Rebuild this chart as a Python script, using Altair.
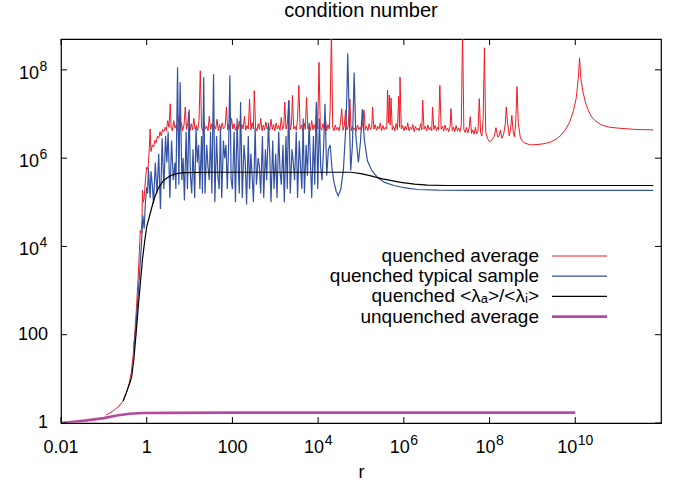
import altair as alt
import pandas as pd

# Values, as (log10 r, log10 condition number)
red_pts = [
    (-0.95, 0.18), (-0.80, 0.26), (-0.65, 0.38), (-0.55, 0.50), (-0.47, 0.70), (-0.41, 0.90),
    (-0.36, 1.15), (-0.32, 1.50), (-0.28, 2.00), (-0.24, 2.60), (-0.20, 3.30), (-0.17, 3.90),
    (-0.15, 4.36), (-0.13, 4.30), (-0.11, 4.60), (-0.10, 5.27), (-0.08, 5.00), (-0.06, 5.10),
    (-0.03, 5.50), (0.00, 5.80), (0.03, 5.75), (0.06, 6.20), (0.08, 6.66), (0.10, 6.15),
    (0.13, 6.30), (0.16, 6.25), (0.19, 6.40), (0.22, 6.35), (0.25, 6.50), (0.28, 6.45),
    (0.31, 6.60), (0.34, 6.50), (0.37, 6.65), (0.40, 6.60), (0.43, 6.70), (0.46, 6.62),
    (0.49, 6.85), (0.52, 6.70), (0.55, 7.23), (0.57, 6.70),
    (0.60, 6.62), (0.63, 6.85), (0.66, 6.68), (0.69, 6.75), (0.72, 6.62), (0.75, 6.95),
    (0.78, 6.66), (0.81, 6.80), (0.84, 6.62), (0.87, 6.75), (0.90, 7.16), (0.93, 6.65),
    (0.96, 6.80), (0.98, 7.04), (1.01, 6.62), (1.04, 6.78), (1.07, 6.64), (1.10, 6.90),
    (1.13, 6.66), (1.16, 6.74), (1.19, 6.63), (1.22, 6.85), (1.25, 7.98), (1.28, 6.70),
    (1.31, 6.62), (1.34, 6.80), (1.37, 6.66), (1.40, 6.72), (1.43, 6.62), (1.46, 6.95),
    (1.49, 6.65), (1.52, 6.78), (1.55, 6.63), (1.58, 6.74), (1.61, 6.66), (1.64, 6.88),
    (1.67, 6.62), (1.70, 6.76), (1.73, 6.64), (1.76, 6.80), (1.79, 6.66), (1.83, 6.72),
    (1.86, 7.16), (1.89, 6.64), (1.92, 6.76), (1.95, 6.62), (1.98, 6.90), (2.01, 6.66),
    (2.04, 6.78), (2.07, 6.63), (2.10, 6.72), (2.13, 6.65), (2.16, 6.84), (2.19, 6.62),
    (2.22, 6.76), (2.25, 6.66), (2.28, 6.95), (2.31, 6.63), (2.34, 6.74), (2.37, 6.66),
    (2.40, 7.34), (2.43, 6.64), (2.46, 6.80), (2.49, 6.66), (2.51, 7.53), (2.54, 6.70),
    (2.57, 6.62), (2.60, 6.78), (2.63, 6.65), (2.66, 6.90), (2.69, 6.62), (2.72, 6.75),
    (2.75, 6.64), (2.78, 6.82), (2.81, 6.66), (2.84, 6.72), (2.87, 6.63), (2.90, 6.88),
    (2.93, 6.65), (2.96, 6.76), (2.99, 6.62), (3.02, 6.80), (3.05, 6.66), (3.08, 6.74),
    (3.11, 6.63), (3.14, 6.92), (3.17, 6.65), (3.20, 6.74), (3.22, 7.27), (3.25, 6.66),
    (3.28, 6.78), (3.32, 7.31), (3.35, 6.64), (3.38, 6.80), (3.40, 7.42), (3.43, 6.66),
    (3.46, 6.72), (3.49, 6.63), (3.52, 6.90), (3.55, 7.65), (3.58, 6.66), (3.61, 6.75),
    (3.64, 6.62), (3.67, 6.80), (3.70, 6.65), (3.73, 7.38), (3.76, 6.66), (3.79, 6.74),
    (3.82, 6.63), (3.85, 6.85), (3.88, 6.64), (3.91, 6.76), (3.94, 6.62), (3.96, 7.27),
    (3.99, 6.66), (4.02, 8.17), (4.05, 6.70), (4.08, 6.63), (4.11, 6.78), (4.14, 6.65),
    (4.17, 6.90), (4.20, 6.62), (4.23, 6.76), (4.26, 6.66), (4.28, 7.10), (4.31, 8.90),
    (4.34, 6.70), (4.37, 6.62), (4.40, 6.75), (4.43, 6.64), (4.46, 6.70), (4.49, 6.62),
    (4.52, 6.80), (4.55, 7.12), (4.58, 6.63), (4.61, 6.74), (4.64, 7.09), (4.67, 6.64),
    (4.70, 6.72), (4.74, 7.34), (4.77, 6.62), (4.80, 6.72), (4.83, 6.64), (4.86, 6.68),
    (4.89, 6.62), (4.92, 6.75), (4.95, 6.65), (4.98, 6.70), (5.01, 6.63), (5.04, 6.80),
    (5.07, 7.09), (5.10, 6.64), (5.13, 6.72), (5.16, 6.62), (5.19, 6.78), (5.22, 6.65),
    (5.25, 6.70), (5.27, 7.16), (5.30, 6.66), (5.33, 6.76), (5.36, 6.63), (5.39, 6.72),
    (5.42, 6.66), (5.45, 6.80), (5.48, 6.62), (5.51, 6.74), (5.54, 6.64), (5.57, 6.70),
    (5.60, 6.66), (5.62, 7.54), (5.64, 6.80), (5.66, 7.43), (5.68, 6.75), (5.70, 7.36),
    (5.73, 6.64), (5.76, 6.72), (5.79, 6.62), (5.82, 6.78), (5.85, 6.64), (5.88, 7.40),
    (5.90, 6.70), (5.91, 7.84), (5.94, 6.66), (5.97, 6.74), (6.00, 6.62), (6.03, 6.72),
    (6.06, 6.64), (6.09, 6.80), (6.12, 6.62), (6.15, 6.70), (6.18, 6.65), (6.21, 6.76),
    (6.24, 6.60), (6.27, 6.72), (6.30, 6.64), (6.33, 6.68), (6.36, 6.62), (6.39, 6.78),
    (6.42, 6.64), (6.44, 7.31), (6.47, 6.66), (6.50, 6.72), (6.53, 6.62), (6.56, 6.75),
    (6.59, 6.64), (6.62, 6.70), (6.65, 6.62), (6.67, 7.16), (6.70, 6.65), (6.73, 6.74),
    (6.76, 6.62), (6.79, 6.70), (6.81, 6.64), (6.84, 7.65), (6.87, 6.66), (6.90, 6.72),
    (6.93, 6.61), (6.96, 6.75), (6.99, 6.63), (7.02, 6.68), (7.05, 6.60), (7.08, 6.72),
    (7.10, 7.12), (7.13, 6.62), (7.16, 6.70), (7.19, 6.60), (7.22, 6.74), (7.25, 6.62),
    (7.28, 6.68), (7.31, 6.60), (7.34, 6.75), (7.37, 8.90), (7.40, 6.65), (7.43, 6.58),
    (7.46, 6.70), (7.49, 6.57), (7.52, 6.66), (7.55, 6.94), (7.58, 6.56), (7.61, 6.64),
    (7.64, 6.54), (7.67, 6.70), (7.70, 6.55), (7.73, 6.62), (7.76, 7.35), (7.79, 6.58),
    (7.82, 6.50), (7.85, 6.90), (7.88, 8.50), (7.91, 6.60),
    (7.95, 6.45), (8.00, 6.37), (8.05, 6.40), (8.11, 6.50), (8.15, 6.69), (8.19, 6.48),
    (8.22, 6.50), (8.25, 6.63), (8.29, 6.45), (8.33, 6.55), (8.37, 6.80), (8.39, 7.16),
    (8.42, 6.80), (8.46, 6.50), (8.49, 6.65), (8.52, 6.97), (8.55, 6.60), (8.58, 6.48),
    (8.61, 6.80), (8.64, 7.62), (8.67, 6.80), (8.72, 6.45), (8.80, 6.35), (8.95, 6.30),
    (9.13, 6.31), (9.30, 6.33), (9.44, 6.37), (9.57, 6.44), (9.67, 6.52), (9.78, 6.66),
    (9.87, 6.82), (9.95, 7.05), (10.02, 7.35), (10.07, 7.80), (10.10, 8.27), (10.13, 7.80),
    (10.18, 7.50), (10.24, 7.25), (10.30, 7.09), (10.37, 6.95), (10.45, 6.86), (10.61, 6.75),
    (10.80, 6.70), (11.00, 6.68), (11.40, 6.65), (11.82, 6.64),
]

blue_pts = [
    (-0.30, 1.70), (-0.25, 2.20), (-0.20, 2.90), (-0.16, 3.50), (-0.12, 4.10), (-0.09, 4.70),
    (-0.06, 4.40), (-0.03, 5.00), (0.00, 5.34), (0.02, 5.20), (0.04, 5.77), (0.06, 5.40),
    (0.08, 5.10), (0.10, 5.70), (0.13, 5.40),
    (0.16, 4.97), (0.20, 5.90), (0.24, 5.20), (0.28, 6.10), (0.32, 4.85), (0.36, 6.45),
    (0.40, 5.30), (0.44, 6.50), (0.47, 5.90), (0.50, 6.60), (0.54, 5.10), (0.58, 6.40),
    (0.62, 5.50), (0.66, 5.90), (0.68, 5.30), (0.72, 8.06), (0.75, 5.40), (0.78, 7.72),
    (0.82, 5.50), (0.85, 6.00), (0.88, 5.04), (0.92, 6.60), (0.95, 5.30), (0.99, 7.10),
    (1.02, 5.60), (1.05, 5.20), (1.08, 6.20), (1.12, 5.10), (1.15, 6.70), (1.18, 5.90),
    (1.21, 6.30), (1.24, 5.30), (1.28, 6.50), (1.30, 5.20), (1.33, 7.83), (1.36, 5.20),
    (1.40, 6.30), (1.43, 5.80), (1.46, 5.50), (1.49, 6.60), (1.52, 5.20), (1.56, 7.90),
    (1.59, 5.00), (1.63, 6.50), (1.66, 5.60), (1.69, 5.30), (1.72, 6.70), (1.75, 5.10),
    (1.79, 6.40), (1.82, 6.00), (1.85, 6.30), (1.88, 5.30), (1.91, 6.20), (1.94, 7.88),
    (1.97, 5.50), (2.00, 5.30), (2.04, 6.60), (2.07, 5.00), (2.11, 6.90), (2.14, 5.70),
    (2.16, 5.20), (2.19, 7.27), (2.23, 5.10), (2.27, 6.30), (2.30, 5.90), (2.33, 4.95),
    (2.37, 6.50), (2.40, 5.30), (2.43, 6.10), (2.46, 5.60), (2.49, 5.00), (2.53, 6.70),
    (2.56, 5.40), (2.60, 6.00), (2.63, 5.80), (2.66, 5.20), (2.70, 6.50), (2.73, 5.10),
    (2.77, 6.20), (2.80, 5.50), (2.84, 6.80), (2.87, 6.10), (2.90, 5.00), (2.94, 6.40),
    (2.97, 5.30), (3.01, 6.10), (3.04, 5.10), (3.08, 6.60), (3.11, 5.70), (3.14, 5.40),
    (3.18, 6.30), (3.21, 5.00), (3.25, 6.50), (3.28, 5.30), (3.31, 7.30), (3.35, 5.20),
    (3.39, 6.20), (3.42, 5.90), (3.45, 5.50), (3.49, 6.60), (3.52, 5.10), (3.56, 6.40),
    (3.59, 5.80), (3.62, 5.30), (3.65, 6.90), (3.68, 5.20), (3.72, 6.30), (3.75, 5.60),
    (3.79, 6.80), (3.82, 5.90), (3.85, 5.10), (3.89, 6.50), (3.92, 5.40), (3.96, 7.28),
    (3.99, 5.30), (4.03, 6.90), (4.06, 5.80), (4.09, 5.50), (4.13, 6.30), (4.16, 7.23),
    (4.20, 5.60), (4.24, 6.20), (4.28, 6.30), (4.32, 5.80), (4.37, 5.45), (4.42, 5.25),
    (4.47, 5.15), (4.53, 5.30), (4.59, 5.75), (4.64, 6.60), (4.67, 7.40), (4.69, 8.37),
    (4.72, 7.20), (4.76, 5.72), (4.80, 6.30), (4.84, 7.94), (4.88, 6.50), (4.94, 5.90),
    (4.99, 6.40), (5.03, 7.11), (5.08, 6.40), (5.15, 5.94), (5.25, 5.72), (5.38, 5.57),
    (5.55, 5.45), (5.77, 5.38), (6.00, 5.33), (6.32, 5.29), (6.80, 5.275), (7.50, 5.27),
    (9.00, 5.27), (11.82, 5.27),
]

black_pts = [
    (-0.55, 0.50), (-0.45, 0.75), (-0.38, 0.95), (-0.35, 1.05), (-0.30, 1.45), (-0.25, 2.00),
    (-0.20, 2.60), (-0.15, 3.15), (-0.10, 3.70), (-0.05, 4.10), (0.00, 4.45), (0.08, 4.74),
    (0.15, 5.00), (0.20, 5.15), (0.28, 5.34), (0.40, 5.50), (0.55, 5.60), (0.70, 5.65),
    (0.85, 5.67), (1.50, 5.68), (3.00, 5.68), (4.50, 5.68), (4.76, 5.68), (5.00, 5.65),
    (5.23, 5.60), (5.50, 5.53), (5.93, 5.45), (6.25, 5.41), (6.55, 5.39), (7.00, 5.38),
    (11.82, 5.38),
]

magenta_pts = [
    (-2.00, 0.000), (-1.70, 0.030), (-1.40, 0.060), (-1.00, 0.110), (-0.70, 0.170),
    (-0.40, 0.210), (-0.10, 0.225), (0.50, 0.230), (2.00, 0.235), (10.00, 0.235),
]

chart_title = "condition number"
series_names = ["quenched average", "quenched typical sample",
                "quenched <λₐ>/<λᵢ>", "unquenched average"]
series_colors = ["#ec1c24", "#3452a4", "#000000", "#b64a9c"]
series_widths = [1.0, 1.2, 1.2, 2.6]
series_pts = [red_pts, blue_pts, black_pts, magenta_pts]

x_ticks = [0.01, 1, 100, 1e4, 1e6, 1e8, 1e10]
y_ticks = [1, 100, 1e4, 1e6, 1e8]
x_plain = [(0.01, "0.01"), (1, "1"), (100, "100")]
x_pow1 = [(1e4, "4"), (1e6, "6"), (1e8, "8")]
x_pow2 = [(1e10, "10")]
y_plain = [(1, "1"), (100, "100")]
y_pow = [(1e4, "4"), (1e6, "6"), (1e8, "8")]

W, H = 600, 384
FONT = "Liberation Sans"
FS = 18
FS_EXP = 14

xs = alt.Scale(type="log", domain=[0.01, 1e12], nice=False)
ys = alt.Scale(type="log", domain=[1, 5e8], nice=False)

xax = alt.Axis(labels=False, title="r", ticks=False, tickSize=0, domain=False, grid=False,
               titlePadding=40)


def X(field):
    return alt.X(field, scale=xs, axis=xax)


def Y(field):
    return alt.Y(field, scale=ys, axis=None)


layers = []
for pts, col, sw in zip(series_pts, series_colors, series_widths):
    df = pd.DataFrame(pts, columns=["lr", "lv"])
    df["r"] = 10 ** df["lr"]
    df["v"] = 10 ** df["lv"]
    df["i"] = range(len(df))
    layers.append(
        alt.Chart(df).mark_line(color=col, strokeWidth=sw, clip=True).encode(
            x=X("r:Q"), y=Y("v:Q"), order="i:Q")
    )

# inward tick marks on all four sides
xt = pd.DataFrame({"r": x_ticks})
yt = pd.DataFrame({"v": y_ticks})
TL = 6
for y0, y1 in [(H, H - TL), (0, TL)]:
    layers.append(alt.Chart(xt).mark_rule(color="black", strokeWidth=1).encode(
        x=X("r:Q"), y=alt.value(y0), y2=alt.value(y1)))
for x0, x1 in [(0, TL), (W, W - TL)]:
    layers.append(alt.Chart(yt).mark_rule(color="black", strokeWidth=1).encode(
        y=Y("v:Q"), x=alt.value(x0), x2=alt.value(x1)))

# tick labels with real superscripts
txt = dict(font=FONT, color="black")
dfx = pd.DataFrame(x_plain, columns=["r", "lab"])
layers.append(alt.Chart(dfx).mark_text(align="center", baseline="alphabetic", fontSize=FS, **txt)
              .encode(x=X("r:Q"), y=alt.value(H + 30), text="lab:N"))
for rows, dx_base, dx_exp in [(x_pow1, 6, 6.5), (x_pow2, 2, 2.5)]:
    d = pd.DataFrame(rows, columns=["r", "lab"])
    layers.append(alt.Chart(d).mark_text(align="right", baseline="alphabetic", fontSize=FS,
                                         dx=dx_base, **txt)
                  .encode(x=X("r:Q"), y=alt.value(H + 30), text=alt.value("10")))
    layers.append(alt.Chart(d).mark_text(align="left", baseline="alphabetic", fontSize=FS_EXP,
                                         dx=dx_exp, **txt)
                  .encode(x=X("r:Q"), y=alt.value(H + 21.5), text="lab:N"))

dfy = pd.DataFrame(y_plain, columns=["v", "lab"])
layers.append(alt.Chart(dfy).mark_text(align="right", baseline="middle", fontSize=FS, **txt)
              .encode(y=Y("v:Q"), x=alt.value(-13), text="lab:N"))
dfyp = pd.DataFrame(y_pow, columns=["v", "lab"])
layers.append(alt.Chart(dfyp).mark_text(align="right", baseline="alphabetic", fontSize=FS, dy=9, **txt)
              .encode(y=Y("v:Q"), x=alt.value(-22), text=alt.value("10")))
layers.append(alt.Chart(dfyp).mark_text(align="left", baseline="alphabetic", fontSize=FS_EXP, dy=1, **txt)
              .encode(y=Y("v:Q"), x=alt.value(-21.5), text="lab:N"))

# chart title as a text mark above the frame
title_df = pd.DataFrame({"t": [chart_title]})
layers.append(alt.Chart(title_df).mark_text(align="center", baseline="alphabetic", fontSize=20, **txt)
              .encode(text="t:N", x=alt.value(W / 2), y=alt.value(-22)))

# key inside the plot, labels to the left of the line samples
leg_df = pd.DataFrame({"name": series_names})
for k, (name, col, sw) in enumerate(zip(series_names, series_colors, series_widths)):
    yy = 217 + k * 20.2
    layers.append(alt.Chart(leg_df).transform_filter(alt.datum.name == name).mark_text(
        align="right", baseline="middle", fontSize=19, **txt).encode(
        text="name:N", x=alt.value(478), y=alt.value(yy)))
    layers.append(alt.Chart(leg_df).transform_filter(alt.datum.name == name).mark_rule(
        color=col, strokeWidth=sw).encode(x=alt.value(491), x2=alt.value(546), y=alt.value(yy)))

chart = alt.layer(*layers).properties(
    width=W, height=H,
    padding={"left": 61, "top": 39, "right": 15, "bottom": 62},
    autosize=alt.AutoSizeParams(type="none"),
).configure_view(stroke="black", strokeWidth=1.2).configure_axis(
    labelFont=FONT, labelFontSize=FS, labelColor="black",
    titleFont=FONT, titleFontSize=18, titleFontWeight="normal", titleColor="black",
)

chart.save("out.html", embed_options={"renderer": "svg", "actions": False})
